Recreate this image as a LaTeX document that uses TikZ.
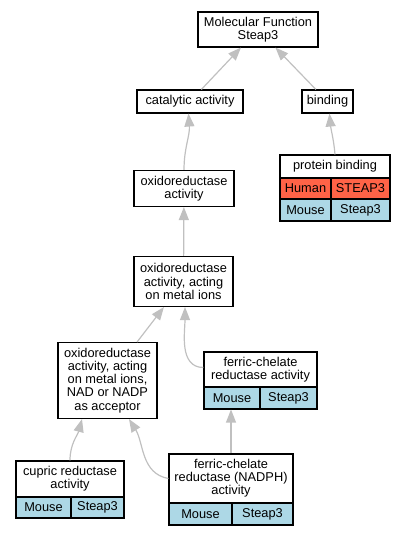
\documentclass[tikz,border=0pt]{standalone}
\usepackage{fontspec}
\setmainfont{Liberation Sans}
\usetikzlibrary{arrows.meta,calc}
\definecolor{human}{HTML}{FF6347}
\definecolor{mouse}{HTML}{ADD8E6}
\definecolor{edgegray}{HTML}{C0C0C0}
\tikzset{
  box/.style={draw=black, line width=1.1pt, rectangle, inner sep=0pt, align=center,
    font=\fontsize{12.8}{13.1}\selectfont},
  hcell/.style={box, fill=human},
  mcell/.style={box, fill=mouse},
  isa/.style={draw=edgegray, line width=1.2pt, -{Triangle[length=13pt,width=10pt]}}
}
\begin{document}
\begin{tikzpicture}[x=1pt,y=-1pt]
\useasboundingbox (0,0) rectangle (405,536);
% plain nodes
\node[box, minimum width=120pt, minimum height=35pt] (mf) at (258,29.5) {Molecular Function\\Steap3};
\node[box, minimum width=106pt, minimum height=23pt] (cat) at (190,101.5) {catalytic activity};
\node[box, minimum width=51pt, minimum height=23pt] (bind) at (327.5,101.5) {binding};
\node[box, minimum width=100pt, minimum height=36pt] (ox) at (184,188.5) {oxidoreductase\\activity};
\node[box, minimum width=99pt, minimum height=50pt] (metal) at (183.5,281.5) {oxidoreductase\\activity, acting\\on metal ions};
\node[box, minimum width=99pt, minimum height=76pt] (nad) at (107.5,380.5) {oxidoreductase\\activity, acting\\on metal ions,\\NAD or NADP\\as acceptor};
% protein binding table
\node[box, minimum width=110pt, minimum height=23pt] (pbh) at (335,166.5) {protein binding};
\node[hcell, minimum width=51pt, minimum height=21pt] (pbhl) at (305.5,188.5) {Human};
\node[hcell, minimum width=59pt, minimum height=21pt] (pbhr) at (360.5,188.5) {STEAP3};
\node[mcell, minimum width=51pt, minimum height=22pt] (pbml) at (305.5,210) {Mouse};
\node[mcell, minimum width=59pt, minimum height=22pt] (pbmr) at (360.5,210) {Steap3};
% ferric-chelate reductase activity table
\node[box, minimum width=113pt, minimum height=35pt] (fcah) at (260.5,369.5) {ferric-chelate\\reductase activity};
\node[mcell, minimum width=56pt, minimum height=22pt] (fcal) at (232,398) {Mouse};
\node[mcell, minimum width=57pt, minimum height=22pt] (fcar) at (288.5,398) {Steap3};
% cupric reductase activity table
\node[box, minimum width=108pt, minimum height=36pt] (cuph) at (70,479) {cupric reductase\\activity};
\node[mcell, minimum width=55pt, minimum height=21pt] (cupl) at (43.5,507.5) {Mouse};
\node[mcell, minimum width=53pt, minimum height=21pt] (cupr) at (97.5,507.5) {Steap3};
% ferric-chelate reductase (NADPH) activity table
\node[box, minimum width=124pt, minimum height=49pt] (fnh) at (231,478.5) {ferric-chelate\\reductase (NADPH)\\activity};
\node[mcell, minimum width=63pt, minimum height=22pt] (fnhl) at (200.5,514) {Mouse};
\node[mcell, minimum width=61pt, minimum height=22pt] (fnhr) at (262.5,514) {Steap3};
% edges
\draw[isa] (cat) -- (mf);
\draw[isa] (bind) -- (mf);
\draw[isa] (pbh.north) to[out=95,in=-85] ($(bind.south)+(2,0)$);
\draw[isa] (ox.north) to[out=90,in=-86] ($(cat.south)+(-1.5,0)$);
\draw[isa] (metal) -- (ox);
\draw[isa] (nad) -- (metal);
\draw[isa] ($(fcah.west)+(0,-2)$) to[out=180,in=-90] ($(metal.south)+(1.5,0)$);
\draw[isa] (cuph.north) to[out=90,in=-105] ($(nad.south)+(-25.5,0)$);
\draw[isa] (fnh.west) to[out=170,in=-58] ($(nad.south)+(21.5,0)$);
\draw[isa] (fnh.north) -- (fcal.south -| fnh.north);
\end{tikzpicture}
\end{document}
